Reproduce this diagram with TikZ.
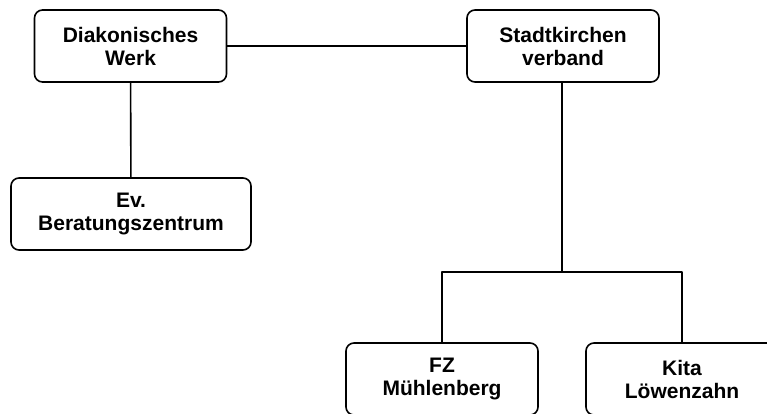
\documentclass[tikz,border=0pt]{standalone}
\usepackage{fontspec}
\setmainfont{Liberation Sans}
\begin{document}
\begin{tikzpicture}[line join=bevel,line width=1.6bp,
  orgbox/.style={draw,rounded corners=8bp,minimum width=192bp,minimum height=72bp,
    align=center,font=\fontsize{21bp}{23bp}\selectfont\bfseries},]
%%
\useasboundingbox (0bp,0bp) rectangle (767bp,414bp);
\node (node_werk) at (130.5bp,368bp) [orgbox] {Diakonisches\\Werk};
  \node (node_verband) at (563bp,368bp) [orgbox] {Stadtkirchen\\verband};
  \node (node_ebz) at (131bp,200bp) [orgbox,minimum width=240bp] {Ev.\\Beratungszentrum};
  \node (node_fz) at (442bp,35bp) [orgbox] {FZ\\Mühlenberg};
  \node (node_kita) at (682bp,35bp) [orgbox] {Kita\\Löwenzahn};
  \coordinate (bus) at (562bp,142bp);
  \draw [black] (node_werk) -- (node_verband);
  \draw [black] (node_werk) -- (node_ebz);
  \draw [black] (node_verband.south -| bus) -- (bus);
  \draw [black] (node_fz.north) |- (bus) -| (node_kita.north);
%
\end{tikzpicture}
\end{document}
